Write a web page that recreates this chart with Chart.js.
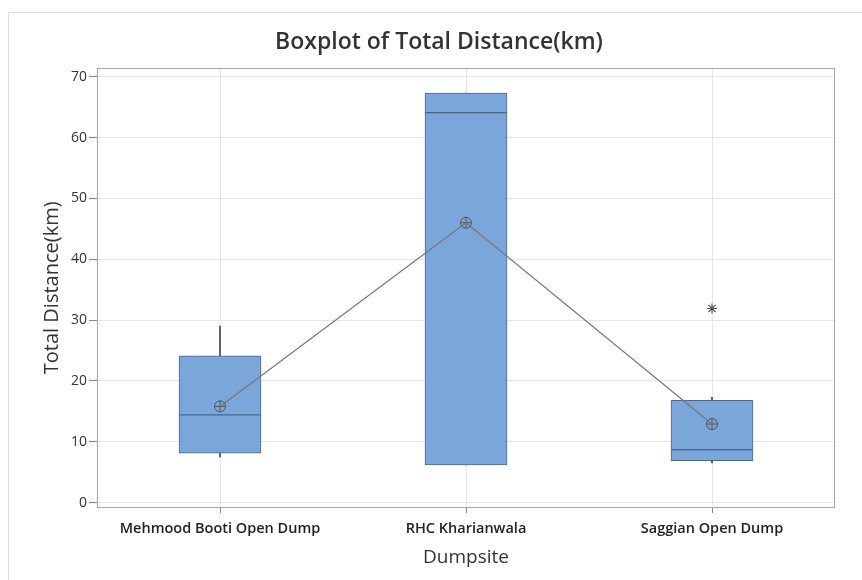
<!DOCTYPE html>
<html>
<head>
<meta charset="utf-8">
<script src="https://cdn.jsdelivr.net/npm/chart.js@4.4.1/dist/chart.umd.min.js"></script>
<style>
  html, body { margin: 0; padding: 0; background: #ffffff; }
  #wrap { position: relative; width: 862px; height: 580px; }
  #frame { position: absolute; left: 8px; top: 12px; right: 0; bottom: 0;
           border-left: 1px solid #dedede; border-top: 1px solid #dedede; }
  canvas { position: absolute; left: 0; top: 0; }
</style>
</head>
<body>
<div id="wrap">
  <div id="frame"></div>
  <canvas id="c" width="862" height="580"></canvas>
</div>
<script>
// ---- Data ----
const categories  = ['Mehmood Booti Open Dump', 'RHC Kharianwala', 'Saggian Open Dump'];
const q1Values    = [8.1, 6.2, 6.9];
const q3Values    = [24.1, 67.3, 16.8];
const medians     = [14.4, 64.1, 8.7];
const means       = [15.8, 46.0, 12.9];
const whiskerLow  = [7.5, 6.2, 6.5];
const whiskerHigh = [29.0, 67.3, 17.3];
const outliers    = [null, null, 31.9];
const yTicks      = [0, 10, 20, 30, 40, 50, 60, 70];

const FONT = "'Open Sans', 'Noto Sans', sans-serif";

const framePlugin = {
  id: 'frame',
  afterDraw(chart) {
    const a = chart.chartArea, ctx = chart.ctx;
    ctx.save();
    ctx.strokeStyle = '#a8a8a8';
    ctx.lineWidth = 1;
    ctx.strokeRect(Math.round(a.left) + 0.5, Math.round(a.top) + 0.5,
                   Math.round(a.right - a.left) - 1, Math.round(a.bottom - a.top) - 1);
    ctx.restore();
  }
};

new Chart(document.getElementById('c'), {
  type: 'bar',
  data: {
    labels: categories,
    datasets: [
      {
        type: 'line', label: 'Mean', data: means,
        borderColor: '#777777', borderWidth: 1.2,
        pointStyle: 'circle', pointRadius: 5.5,
        pointBorderColor: '#555555', pointBackgroundColor: 'rgba(0,0,0,0)',
        pointBorderWidth: 1, order: 0
      },
      {
        type: 'line', label: 'MeanCross', data: means, showLine: false,
        pointStyle: 'cross', pointRadius: 5.5,
        pointBorderColor: '#555555', pointBorderWidth: 1, order: 0
      },
      {
        type: 'line', label: 'Median', data: medians, showLine: false,
        pointStyle: 'line', pointRadius: 41,
        pointBorderColor: '#4b6688', pointBorderWidth: 1.2, order: 0
      },
      {
        type: 'line', label: 'Outlier', data: outliers, showLine: false,
        pointStyle: 'star', pointRadius: 5,
        pointBorderColor: '#555555', pointBorderWidth: 1.2, order: 0
      },
      {
        type: 'bar', label: 'Box',
        data: categories.map((_, i) => [q1Values[i], q3Values[i]]),
        backgroundColor: '#7ba6da', borderColor: '#4e6788', borderWidth: 1,
        borderSkipped: false, barThickness: 82, grouped: false, order: 1
      },
      {
        type: 'bar', label: 'Whisker',
        data: categories.map((_, i) => [whiskerLow[i], whiskerHigh[i]]),
        backgroundColor: '#5a5a5a', borderWidth: 0,
        barThickness: 1.2, grouped: false, order: 2
      }
    ]
  },
  options: {
    responsive: false,
    animation: false,
    layout: { autoPadding: false, padding: { left: 27, top: 15, right: 11, bottom: 0 } },
    plugins: {
      legend: { display: false },
      tooltip: { enabled: false },
      title: {
        display: true,
        text: 'Boxplot of Total Distance(km)',
        color: '#333333',
        font: { family: FONT, size: 23, weight: '600' },
        padding: { top: 14, bottom: 11 }
      }
    },
    scales: {
      x: {
        offset: true,
        grid: { offset: false, color: '#e6e6e6', tickColor: '#888888', tickLength: 5, drawTicks: true },
        border: { display: false },
        ticks: { color: '#222222', font: { family: FONT, size: 14.5, weight: '600' }, padding: 7, maxRotation: 0 },
        title: {
          display: true, text: 'Dumpsite', color: '#333333',
          font: { family: FONT, size: 19, weight: 'normal' },
          padding: { top: 0, bottom: 11 }
        },
        afterFit(scale) { scale.height = 72; }
      },
      y: {
        min: -0.9, max: 71.5,
        afterBuildTicks(scale) { scale.ticks = yTicks.map(v => ({ value: v })); },
        grid: { color: '#e6e6e6', tickColor: '#888888', tickLength: 8 },
        border: { display: false },
        ticks: { color: '#333333', font: { family: FONT, size: 14 }, padding: 2 },
        title: {
          display: true, text: 'Total Distance(km)', color: '#333333',
          font: { family: FONT, size: 20, weight: 'normal' },
          padding: { top: 13, bottom: 0 }
        },
        afterFit(scale) { scale.width = 70; }
      },
      spacerRight: {
        type: 'linear', position: 'right', display: true,
        grid: { display: false, drawTicks: false },
        border: { display: false },
        ticks: { display: false },
        afterFit(scale) { scale.width = 16; }
      }
    }
  },
  plugins: [framePlugin]
});
</script>
</body>
</html>
